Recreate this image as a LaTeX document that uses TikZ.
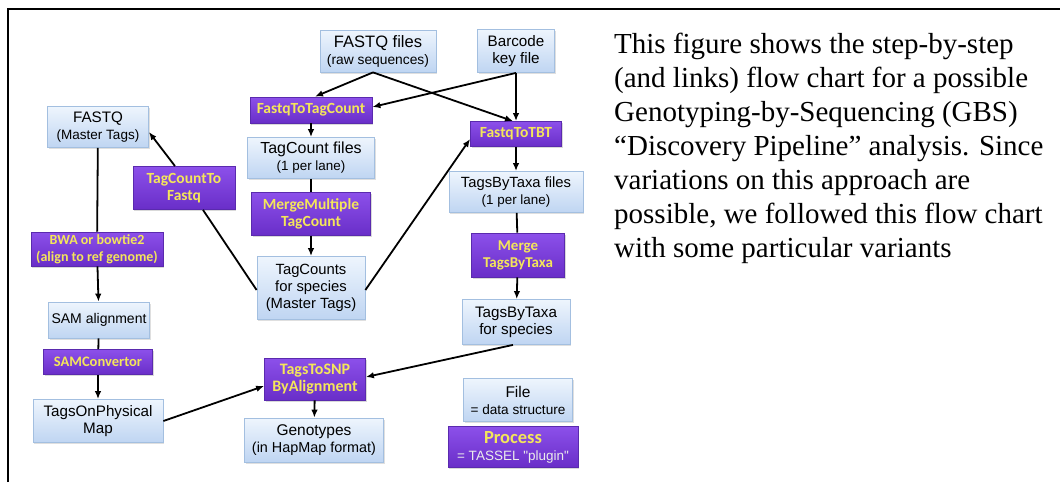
\documentclass[tikz,border=0pt]{standalone}
\usepackage{fontspec}
\setmainfont{Liberation Serif}
\newfontfamily\arialf{Liberation Sans}
\newfontfamily\calibrif{Carlito}
\usetikzlibrary{arrows.meta,shadows}
\definecolor{filetop}{HTML}{EEF5FD}
\definecolor{filebot}{HTML}{BFD5F2}
\definecolor{fileborder}{HTML}{A3BFE0}
\definecolor{proctop}{HTML}{8C50EA}
\definecolor{procbot}{HTML}{692EC8}
\definecolor{procborder}{HTML}{5A2AAE}
\definecolor{procyellow}{HTML}{F4E65A}
\newcommand{\fs}[1]{\fontsize{#1}{17}\selectfont}
\begin{document}
\begin{tikzpicture}[x=1pt,y=-1pt,
  filebox/.style={draw=fileborder, line width=0.8pt, top color=filetop, bottom color=filebot,
    align=center, inner sep=1pt, text=black, font=\arialf\fs{15.2},
    drop shadow={opacity=0.25, shadow xshift=1.2pt, shadow yshift=-1.5pt}},
  procbox/.style={draw=procborder, line width=0.8pt, top color=proctop, bottom color=procbot,
    align=center, inner sep=1pt, text=procyellow, font=\calibrif\bfseries\fs{15.5},
    drop shadow={opacity=0.3, shadow xshift=1.2pt, shadow yshift=-1.5pt}},
  arr/.style={line width=1.8pt, -{Latex[length=8pt,width=6.5pt]}},
  ln/.style={line width=1.8pt}
]
\useasboundingbox (0,0) rectangle (1060,482);
\draw[line width=1.8pt] (8,482) -- (8,9) -- (1060,9);

% file nodes
\node[filebox, minimum width=116pt, minimum height=42pt] (fastqraw) at (378,51) {\fs{16.5}FASTQ files\\\fs{13.8}(raw sequences)};
\node[filebox, minimum width=77pt, minimum height=43pt] (barcode) at (516,51) {Barcode\\key file};
\node[filebox, minimum width=127pt, minimum height=41pt] (tcfiles) at (311,158) {\fs{16}TagCount files\\\fs{13.4}(1 per lane)};
\node[filebox, minimum width=108pt, minimum height=63pt] (tcspecies) at (311,288) {\fs{14.8}TagCounts\\\fs{14.8}for species\\\fs{14.8}(Master Tags)};
\node[filebox, minimum width=134pt, minimum height=41pt] (tbtfiles) at (516,192) {\fs{14.8}TagsByTaxa files\\\fs{13.4}(1 per lane)};
\node[filebox, minimum width=108pt, minimum height=45pt] (tbtspecies) at (516,322) {TagsByTaxa\\for species};
\node[filebox, minimum width=101pt, minimum height=41pt] (fastqmaster) at (98,127) {FASTQ\\\fs{13.5}(Master Tags)};
\node[filebox, minimum width=101pt, minimum height=36pt] (sam) at (99,320) {\fs{14}SAM alignment};
\node[filebox, minimum width=130pt, minimum height=43pt] (topm) at (98,421) {TagsOnPhysical\\Map};
\node[filebox, minimum width=139pt, minimum height=44pt] (geno) at (314,440) {\fs{15.5}Genotypes\\\fs{14.4}(in HapMap format)};
\node[filebox, minimum width=109pt, minimum height=43pt] (filelegend) at (518,400) {\fs{15.5}File\\\fs{13.6}= data structure};

% process nodes
\node[procbox, minimum width=122pt, minimum height=26pt] (f2tc) at (311,110) {FastqToTagCount};
\node[procbox, minimum width=91pt, minimum height=25pt] (f2tbt) at (516,134) {FastqToTBT};
\node[procbox, minimum width=119pt, minimum height=43pt] (merge1) at (311,214) {MergeMultiple\\TagCount};
\node[procbox, minimum width=93pt, minimum height=44pt] (merge2) at (518,255) {\fs{15}Merge\\\fs{15}TagsByTaxa};
\node[procbox, minimum width=102pt, minimum height=43pt] (tc2fq) at (184,188) {TagCountTo\\Fastq};
\node[procbox, minimum width=132pt, minimum height=34pt] (bwa) at (97,249) {\fontsize{14}{15.5}\selectfont BWA or bowtie2\\\fontsize{14}{15.5}\selectfont(align to ref genome)};
\node[procbox, minimum width=109pt, minimum height=25pt] (samconv) at (98,362) {\fs{14.5}SAMConvertor};
\node[procbox, minimum width=101pt, minimum height=42pt] (t2snp) at (315,379) {\fs{16}TagsToSNP\\\fs{16}ByAlignment};
\node[procbox, minimum width=130pt, minimum height=41pt] (proclegend) at (513,447) {\fontsize{18.5}{19}\selectfont Process\\{\arialf\mdseries\color{white!92!black}\fs{13.5}= TASSEL "plugin"}};

% connectors
\draw[arr] ([xshift=-5pt]fastqraw.south) -- ([xshift=4pt]f2tc.north);
\draw[arr] ([xshift=-5pt]fastqraw.south) -- ([xshift=-3pt]f2tbt.north);
\draw[arr] (barcode.south) -- (f2tbt.north);
\draw[arr] (barcode.south) -- ([yshift=3pt]f2tc.east);
\draw[arr] (f2tc) -- (tcfiles);
\draw[ln] (tcfiles) -- (merge1);
\draw[arr] (merge1) -- (tcspecies);
\draw[arr] ([yshift=-2pt]tcspecies.east) -- ([yshift=-5pt]f2tbt.west);
\draw[ln] ([yshift=-2pt]tcspecies.west) -- ([xshift=19pt]tc2fq.south);
\draw[arr] ([xshift=-9pt]tc2fq.north) -- ([yshift=-5pt]fastqmaster.east);
\draw[ln] (fastqmaster) -- (bwa);
\draw[arr] (bwa) -- (sam);
\draw[ln] (sam) -- (samconv);
\draw[arr] (samconv) -- (topm);
\draw[arr] (topm.east) -- ([yshift=-7pt]t2snp.west);
\draw[arr] ([xshift=-3pt]tbtspecies.south) -- ([yshift=2pt]t2snp.east);
\draw[arr] (t2snp) -- (geno);
\draw[arr] (f2tbt) -- (tbtfiles);
\draw[ln] (tbtfiles) -- (merge2);
\draw[arr] (merge2) -- (tbtspecies);

% description
\node[anchor=north west, inner sep=0pt, align=left, font=\fontsize{29}{34}\selectfont] (desc) at (614,33)
  {This figure shows the step-by-step\\
   (and links) flow chart for a possible\\
   Genotyping-by-Sequencing (GBS)\\
   ``Discovery Pipeline'' analysis. Since\\
   variations on this approach are\\
   possible, we followed this flow chart\\
   with some particular variants};
\end{tikzpicture}
\end{document}
